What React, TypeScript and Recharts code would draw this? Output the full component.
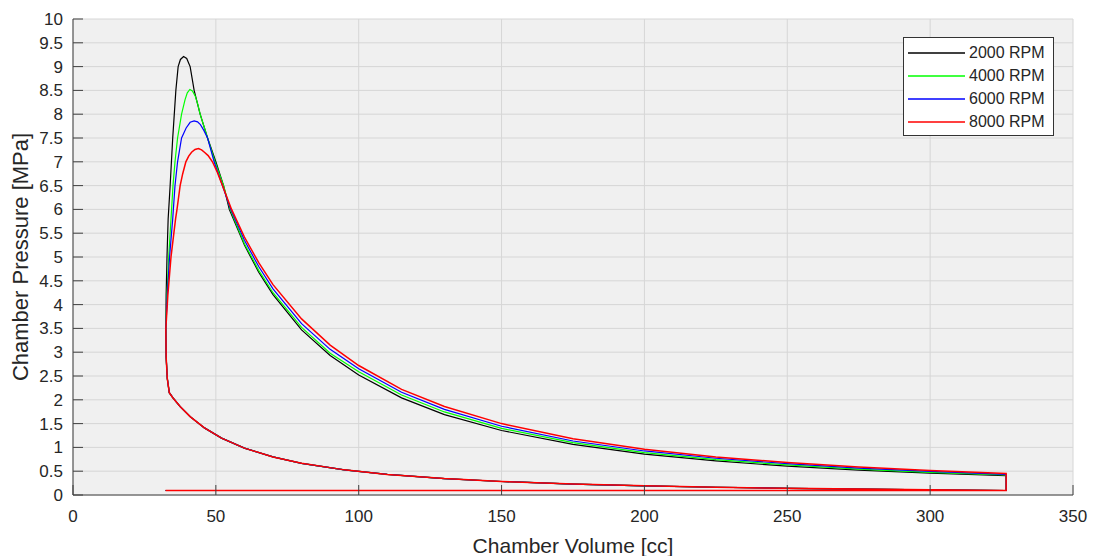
import React from 'react';
import { CartesianGrid, Legend, Line, LineChart, XAxis, YAxis } from 'recharts';

const FONT = '"Liberation Sans", Arial, Helvetica, sans-serif';
const INK = '#262626';

const volumeTicks = [0, 50, 100, 150, 200, 250, 300, 350];
const pressureTicks = [0, 0.5, 1, 1.5, 2, 2.5, 3, 3.5, 4, 4.5, 5, 5.5, 6, 6.5, 7, 7.5, 8, 8.5, 9, 9.5, 10];

// shared part of every cycle: compression stroke and start of combustion
const compressionVolume = [326.6, 300, 275, 250, 225, 200, 175, 150, 130, 110, 95, 80, 70, 60, 52, 46, 41, 37.5, 35, 33.7];
const compressionPressure = [0.095, 0.11, 0.124, 0.141, 0.163, 0.192, 0.23, 0.284, 0.345, 0.433, 0.528, 0.666, 0.8, 0.985, 1.195, 1.41, 1.647, 1.858, 2.039, 2.15];
const ignitionVolume = [33.0, 32.6, 32.5];
const ignitionPressure = [2.45, 2.9, 3.5];

// combustion + expansion per engine speed
const volume2000 = [32.6, 32.9, 33.3, 34.0, 34.9, 36.0, 36.8, 37.6, 38.7, 39.8, 41.0, 42.4, 44.5, 47.1, 50.0, 52.7, 54.7, 60, 65, 70, 80, 90, 100, 115, 130, 150, 175, 200, 225, 250, 275, 300, 326.6];
const pressure2000 = [4.2, 5.0, 5.8, 6.5, 7.5, 8.5, 9.0, 9.15, 9.21, 9.17, 9.0, 8.5, 8.0, 7.5, 7.0, 6.5, 6.0, 5.25, 4.68, 4.21, 3.47, 2.93, 2.52, 2.04, 1.69, 1.355, 1.064, 0.86, 0.716, 0.605, 0.523, 0.458, 0.405];

const volume4000 = [32.9, 33.5, 34.3, 35.0, 35.7, 36.6, 38.0, 39.2, 40.0, 40.9, 41.8, 42.8, 43.7, 44.5, 47.1, 49.7, 52.7, 55.0, 60, 65, 70, 80, 90, 100, 115, 130, 150, 175, 200, 225, 250, 275, 300, 326.6];
const pressure4000 = [4.2, 5.0, 5.8, 6.5, 7.0, 7.5, 8.0, 8.3, 8.45, 8.52, 8.49, 8.38, 8.2, 8.0, 7.5, 7.0, 6.5, 6.0, 5.28, 4.72, 4.25, 3.52, 2.98, 2.59, 2.1, 1.745, 1.4, 1.1, 0.89, 0.742, 0.632, 0.545, 0.477, 0.42];

const volume6000 = [33.0, 33.8, 34.9, 35.7, 36.6, 38.0, 39.6, 41.0, 42.4, 43.6, 44.6, 45.8, 47.1, 49.4, 52.3, 55.2, 60, 65, 70, 80, 90, 100, 115, 130, 150, 175, 200, 225, 250, 275, 300, 326.6];
const pressure6000 = [4.2, 5.0, 5.8, 6.5, 7.0, 7.5, 7.71, 7.83, 7.86, 7.84, 7.78, 7.66, 7.5, 7.0, 6.5, 6.0, 5.35, 4.8, 4.33, 3.6, 3.06, 2.65, 2.16, 1.8, 1.445, 1.135, 0.925, 0.772, 0.658, 0.566, 0.495, 0.435];

const volume8000 = [33.2, 34.3, 35.9, 36.4, 37.5, 38.4, 39.5, 40.5, 41.5, 42.7, 43.9, 45.0, 46.0, 47.3, 48.8, 50.5, 52.3, 55.5, 60, 65, 70, 80, 90, 100, 115, 130, 150, 175, 200, 225, 250, 275, 300, 326.6];
const pressure8000 = [4.2, 5.0, 5.8, 6.0, 6.5, 6.75, 7.0, 7.12, 7.2, 7.26, 7.28, 7.25, 7.2, 7.13, 7.0, 6.78, 6.5, 6.0, 5.42, 4.88, 4.42, 3.7, 3.15, 2.72, 2.22, 1.86, 1.5, 1.18, 0.96, 0.8, 0.683, 0.588, 0.515, 0.45];

// blowdown and exhaust/intake line
const exhaustVolume = [326.6, 32.4];
const exhaustPressure = [0.095, 0.095];

const seriesNames = ['2000 RPM', '4000 RPM', '6000 RPM', '8000 RPM'];
const seriesColors = ['#000000', '#00ff00', '#0000ff', '#ff0000'];
const seriesWidths = [1.2, 1.2, 1.2, 1.5];
const seriesVolumes = [volume2000, volume4000, volume6000, volume8000];
const seriesPressures = [pressure2000, pressure4000, pressure6000, pressure8000];

const toPoints = (v: number[], p: number[]) => v.map((x, i) => ({ volume: x, pressure: p[i] }));

const series = seriesNames.map((name, i) => ({
  name,
  color: seriesColors[i],
  width: seriesWidths[i],
  data: [
    ...toPoints(compressionVolume, compressionPressure),
    ...toPoints(ignitionVolume, ignitionPressure),
    ...toPoints(seriesVolumes[i], seriesPressures[i]),
    ...toPoints(exhaustVolume, exhaustPressure),
  ],
}));

const renderLegend = () => (
  <div
    style={{
      border: '1px solid #333',
      background: '#fff',
      width: 149,
      padding: '3px 0 2px 0',
      fontFamily: FONT,
      fontSize: 16,
      color: INK,
    }}
  >
    {series.map((s) => (
      <div key={s.name} style={{ display: 'flex', alignItems: 'center', height: 23 }}>
        <svg width={61} height={4} style={{ display: 'block' }}>
          <line x1={4} x2={61} y1={2} y2={2} stroke={s.color} strokeWidth={1.5} />
        </svg>
        <span style={{ marginLeft: 4, lineHeight: 1 }}>{s.name}</span>
      </div>
    ))}
  </div>
);

const XTitle = (props: any) => {
  const vb = props.viewBox || { x: 73, y: 495, width: 1000, height: 61 };
  return (
    <text x={vb.x + vb.width / 2} y={vb.y + 58} textAnchor="middle" fill={INK} fontSize={21} fontFamily={FONT}>
      Chamber Volume [cc]
    </text>
  );
};

const YTitle = (props: any) => {
  const vb = props.viewBox || { x: 0, y: 19, width: 73, height: 476 };
  const cx = vb.x + 27.5;
  const cy = vb.y + vb.height / 2;
  return (
    <text x={cx} y={cy} transform={`rotate(-90, ${cx}, ${cy})`} textAnchor="middle" fill={INK} fontSize={22} fontFamily={FONT}>
      Chamber Pressure [MPa]
    </text>
  );
};

const tickStyle = { fill: INK, fontSize: 17, fontFamily: FONT };

export default function App() {
  return (
    <div style={{ position: 'absolute', left: 0, top: 0, background: '#fff' }}>
      <LineChart width={1094} height={556} margin={{ top: 19, right: 21, bottom: 0, left: 0 }}>
        <CartesianGrid fill="#f0f0f0" stroke="#d6d6d6" horizontal vertical />
        <XAxis
          dataKey="volume"
          type="number"
          domain={[0, 350]}
          ticks={volumeTicks}
          interval={0}
          height={61}
          tickSize={-10}
          tickMargin={25}
          stroke="#404040"
          tick={tickStyle}
          label={{ content: XTitle }}
        />
        <YAxis
          type="number"
          domain={[0, 10]}
          ticks={pressureTicks}
          interval={0}
          width={73}
          tickSize={-10}
          tickMargin={20}
          stroke="#404040"
          tick={tickStyle}
          label={{ content: YTitle }}
        />
        <XAxis
          xAxisId="top"
          orientation="top"
          type="number"
          domain={[0, 350]}
          ticks={volumeTicks}
          interval={0}
          height={0}
          tickSize={-10}
          tick={false}
          stroke="#404040"
        />
        <YAxis
          yAxisId="right"
          orientation="right"
          type="number"
          domain={[0, 10]}
          ticks={pressureTicks}
          interval={0}
          width={0}
          tickSize={-10}
          tick={false}
          stroke="#404040"
        />
        <Legend
          layout="vertical"
          align="center"
          verticalAlign="middle"
          content={renderLegend}
          wrapperStyle={{ left: 903, top: 37, width: 'auto', height: 'auto' }}
        />
        {series.map((s) => (
          <Line
            key={s.name}
            name={s.name}
            data={s.data}
            dataKey="pressure"
            type="linear"
            stroke={s.color}
            strokeWidth={s.width}
            dot={false}
            activeDot={false}
            isAnimationActive={false}
          />
        ))}
      </LineChart>
    </div>
  );
}
